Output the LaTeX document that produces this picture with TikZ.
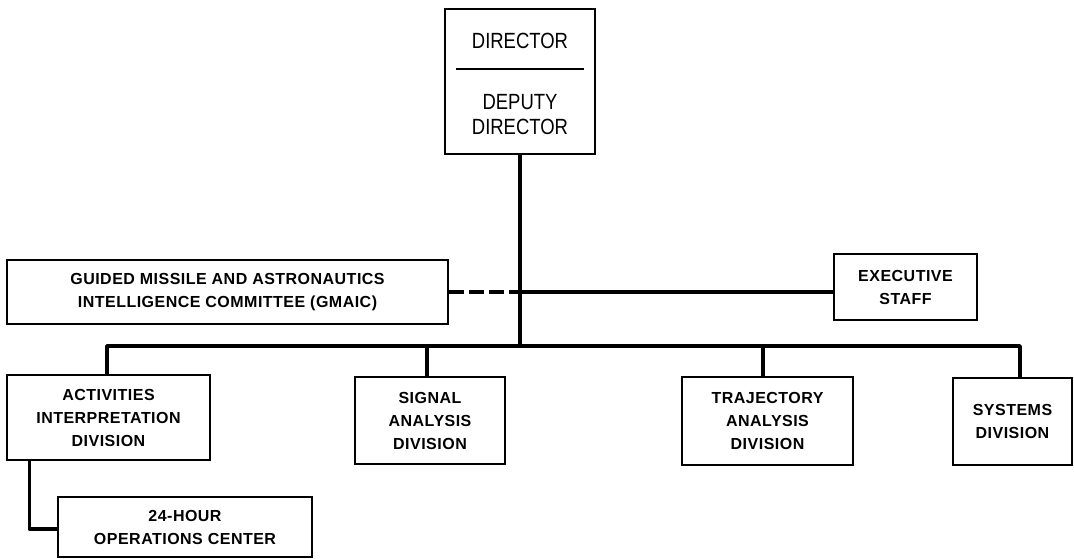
\documentclass[tikz,border=0pt]{standalone}
\usepackage{fontspec}
\setmainfont{Liberation Sans}
\newfontfamily\dirfont[FakeStretch=0.84]{Liberation Sans}
\newfontfamily\labfont[LetterSpace=3]{Liberation Sans}
\begin{document}
\begin{tikzpicture}[x=1pt,y=-1pt,
  box/.style={draw=black,line width=1.5pt,rectangle,inner sep=0pt,align=center,
    font=\labfont\fontsize{16}{23}\selectfont\bfseries},
  bigtxt/.style={inner sep=0pt,align=center,font=\dirfont\fontsize{22}{25}\selectfont},
  conn/.style={line width=3.5pt,line cap=rect,line join=round},
  dashconn/.style={line width=3.5pt,dash pattern=on 15pt off 5pt}]
\useasboundingbox (0,0) rectangle (1074,558);
\fill[white] (0,0) rectangle (1074,558);
% director
\node[box,minimum width=150pt,minimum height=145pt] (dir) at (520,81.5) {};
\node[bigtxt] (dirtop) at (520,41) {DIRECTOR};
\node[bigtxt] (dirbot) at (520,114.5) {DEPUTY\\DIRECTOR};
\coordinate (divl) at (456,69);
\coordinate (divr) at (584,69);
\draw[line width=2pt] (divl) -- (divr);
% side boxes
\node[box,minimum width=441pt,minimum height=64pt] (gmaic) at (227.5,292) {GUIDED MISSILE AND ASTRONAUTICS\\INTELLIGENCE COMMITTEE (GMAIC)};
\node[box,minimum width=143pt,minimum height=66pt] (exec) at (905.5,287) {EXECUTIVE\\STAFF};
% divisions
\node[box,minimum width=203pt,minimum height=85pt] (act) at (108.5,417.5) {ACTIVITIES\\INTERPRETATION\\DIVISION};
\node[box,minimum width=150pt,minimum height=87pt] (sig) at (430,420.5) {SIGNAL\\ANALYSIS\\DIVISION};
\node[box,minimum width=171pt,minimum height=88pt] (traj) at (767.5,421) {TRAJECTORY\\ANALYSIS\\DIVISION};
\node[box,minimum width=119pt,minimum height=87pt] (sys) at (1012.5,421.5) {SYSTEMS\\DIVISION};
\node[box,minimum width=254pt,minimum height=60pt] (ops) at (185,527) {24-HOUR\\OPERATIONS CENTER};
% connectors
\coordinate (bus) at (520,346);
\coordinate (junc) at (520,292);
\draw[conn] (dir.south) -- (bus);
\draw[conn] ([xshift=-1.5pt]act.north) |- (bus) -| ([xshift=7.5pt]sys.north);
\draw[conn] ([xshift=-3pt]sig.north) -- ([xshift=-3pt]sig.north |- bus);
\draw[conn] ([xshift=-4.5pt]traj.north) -- ([xshift=-4.5pt]traj.north |- bus);
\draw[conn,line cap=butt] (junc) -- (junc -| exec.west);
\draw[dashconn] (junc -| gmaic.east) -- (junc);
\draw[conn,line cap=butt] ([xshift=23pt]act.south west) |- ([yshift=-2pt]ops.west);
\end{tikzpicture}
\end{document}
